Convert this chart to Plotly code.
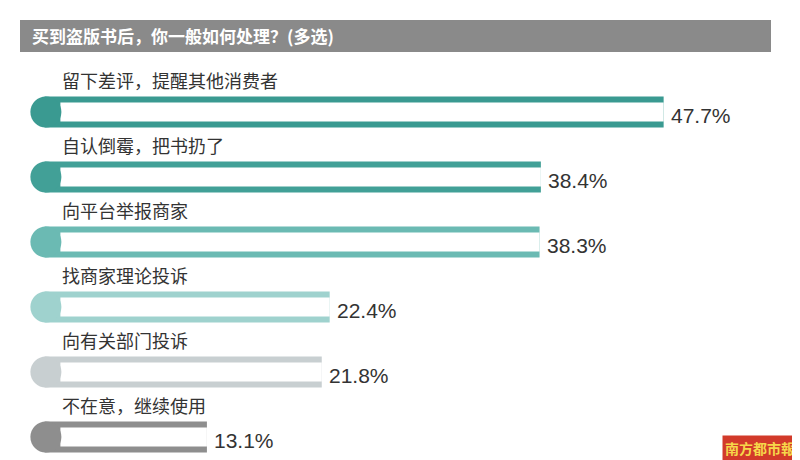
import plotly.graph_objects as go

# data
categories = ["留下差评，提醒其他消费者", "自认倒霉，把书扔了", "向平台举报商家",
              "找商家理论投诉", "向有关部门投诉", "不在意，继续使用"]
values = [47.7, 38.4, 38.3, 22.4, 21.8, 13.1]
value_labels = ["47.7%", "38.4%", "38.3%", "22.4%", "21.8%", "13.1%"]
colors = ["#3a9a91", "#42a097", "#6bbab3", "#9fd2ce", "#c8cfd1", "#8e8e8e"]
title = "买到盗版书后，你一般如何处理？(多选)"

W, H = 800, 460
X0, PX_PER = 26, 13.2      # pixel of x=0, pixels per percent
Y0, PY_PER = 104, 65       # pixel of first bar centre, pixels per row

ypos = list(range(len(categories)))
FONT = "Noto Sans CJK SC"

fig = go.Figure()

# outer coloured bar
fig.add_trace(go.Bar(
    y=ypos, x=[v - 0.8 for v in values], base=0.8, orientation="h",
    width=31 / PY_PER, marker=dict(color=colors, line_width=0),
    hoverinfo="skip", showlegend=False,
))
# white inner bar -> leaves two stripes, right end open
fig.add_trace(go.Bar(
    y=ypos, x=[v - 2.0 for v in values], base=2.0, orientation="h",
    width=19 / PY_PER, marker=dict(color="white", line_width=0),
    hoverinfo="skip", showlegend=False,
))
# rounded left caps
fig.add_trace(go.Scatter(
    y=ypos, x=[0.9] * len(ypos), mode="markers",
    marker=dict(size=31, color=colors, line_width=0),
    hoverinfo="skip", showlegend=False,
))

annotations = []
for i, (c, v, lab) in enumerate(zip(categories, values, value_labels)):
    annotations.append(dict(x=2.0, y=i - 0.5, xref="x", yref="y", text=c,
                            showarrow=False, xanchor="left", yanchor="middle",
                            font=dict(family=FONT, size=18, color="#333")))
    annotations.append(dict(x=v + 0.4, y=i + 0.05, xref="x", yref="y", text=lab,
                            showarrow=False, xanchor="left", yanchor="middle",
                            font=dict(family="Liberation Sans", size=21, color="#333")))

annotations.append(dict(x=22 / W, y=1 - 28 / H, xref="paper", yref="paper",
                        text="<b>" + title + "</b>",
                        showarrow=False, xanchor="left", yanchor="middle",
                        font=dict(family=FONT, size=17, color="white")))
annotations.append(dict(x=790 / W, y=1 - 440 / H, xref="paper", yref="paper",
                        text="<b>南方都市報</b>", showarrow=False, xanchor="right",
                        yanchor="middle", bgcolor="#d23a2a", borderpad=2,
                        font=dict(family=FONT, size=14, color="#f6d84a")))

fig.update_layout(
    width=W, height=H, margin=dict(l=0, r=0, t=0, b=0),
    paper_bgcolor="white", plot_bgcolor="white", barmode="overlay",
    xaxis=dict(range=[-X0 / PX_PER, (W - X0) / PX_PER], visible=False, fixedrange=True),
    yaxis=dict(range=[(H - Y0) / PY_PER, -Y0 / PY_PER], visible=False, fixedrange=True),
    shapes=[dict(type="rect", xref="paper", yref="paper",
                 x0=12 / W, x1=763 / W, y0=1 - 44 / H, y1=1 - 12 / H,
                 fillcolor="#8a8a8a", line_width=0, layer="below")],
    annotations=annotations,
)

fig.write_html("out.html")
